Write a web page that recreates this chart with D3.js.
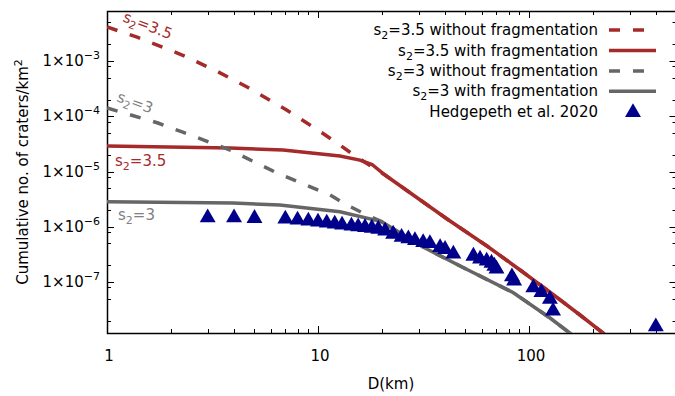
<!DOCTYPE html>
<html><head><meta charset="utf-8">
<script src="https://cdn.jsdelivr.net/npm/d3@7"></script>
<style>body{margin:0;background:#fff}svg{display:block}text{font-family:"DejaVu Sans",Verdana,sans-serif}</style>
</head><body><svg id="c" width="675" height="396"></svg>
<script>
// ---- data ----
const red35NoFragD = [1, 1.40, 2.27, 3.32, 4.66, 7.13, 10.2, 12.3, 14.98, 17.64, 20.78, 40.9, 63.2, 90.7, 130, 174.5, 224, 335.7];
const red35NoFragN = [4.11e-3, 2.66e-3, 1.28e-3, 6.50e-4, 3.31e-4, 1.285e-4, 5.34e-5, 3.28e-5, 1.92e-5, 1.285e-5, 8.65e-6, 1.384e-6, 4.50e-7, 1.655e-7, 5.97e-8, 2.54e-8, 1.2e-8, 3.6e-9];
const red35FragD = [1, 3.83, 6.83, 12.7, 15.8, 18.03, 20.78, 40.9, 63.2, 90.7, 130, 174.5, 224, 335.7];
const red35FragN = [2.89e-5, 2.66e-5, 2.45e-5, 1.91e-5, 1.61e-5, 1.339e-5, 8.65e-6, 1.384e-6, 4.50e-7, 1.655e-7, 5.97e-8, 2.54e-8, 1.2e-8, 3.6e-9];
const gray3NoFragD = [1, 1.745, 2.27, 3.83, 6.39, 11.4, 13.7, 16.7, 20.0, 31.45, 48.7, 84.0, 125.8, 156.4, 216.9];
const gray3NoFragN = [1.41e-4, 7.54e-5, 5.19e-5, 2.45e-5, 9.4e-6, 3.76e-6, 2.48e-6, 1.70e-6, 1.24e-6, 4.31e-7, 1.836e-7, 6.48e-8, 2.24e-8, 1.19e-8, 4.65e-9];
const gray3FragD = [1, 3.96, 6.6, 12.7, 20.0, 31.45, 48.7, 84.0, 125.8, 156.4, 216.9];
const gray3FragN = [2.84e-6, 2.69e-6, 2.48e-6, 1.87e-6, 1.24e-6, 4.31e-7, 1.836e-7, 6.48e-8, 2.24e-8, 1.19e-8, 4.65e-9];
const obsD = [3, 4, 5, 7, 8, 9, 10, 11, 12, 13, 14.4, 15.5, 16.7, 18, 19.3, 20.8, 22.7, 24.9, 26.8, 28.8, 31.5, 33.9, 37.9, 40, 43.8, 54.5, 58.6, 63, 66.4, 68.5, 70.1, 83, 85, 104.8, 114.5, 125.6, 130, 399];
const obsN = [1.467e-6, 1.467e-6, 1.425e-6, 1.384e-6, 1.327e-6, 1.273e-6, 1.222e-6, 1.172e-6, 1.125e-6, 1.077e-6, 1.033e-6, 1.004e-6, 9.8e-7, 9.5e-7, 9.1e-7, 8.4e-7, 7.4e-7, 6.5e-7, 6.1e-7, 5.65e-7, 5.2e-7, 4.99e-7, 4.22e-7, 3.92e-7, 3.22e-7, 2.96e-7, 2.62e-7, 2.41e-7, 2.21e-7, 1.95e-7, 1.73e-7, 1.25e-7, 1.05e-7, 7.9e-8, 6.5e-8, 4.9e-8, 3.0e-8, 1.56e-8];
const xTickVals = [1, 10, 100];
const xTickLabels = ["1", "10", "100"];
const yTickVals = [1e-7, 1e-6, 1e-5, 1e-4, 1e-3];
const yTickExps = ["−7", "−6", "−5", "−4", "−3"];
const yMinorMult = [2, 5, 8];
const legendLabels = ["3.5 without fragmentation", "3.5 with fragmentation", "3 without fragmentation", "3 with fragmentation", "Hedgepeth et al. 2020"];
const xDomain = [1, 500];
const yDomain = [1.2e-8, 8e-3];

// ---- layout ----
const svg = d3.select("#c");
const L = 107, R = 676.5, T = 11, B = 333;
const x = d3.scaleLog().domain(xDomain).range([L, R]);
const y = d3.scaleLog().domain(yDomain).range([B, T]);
const RED = "#a52a2a", GRAY = "#666666", BLUE = "#00008b", LGRAY = "#808080";
const DASH = "11,13";

svg.append("clipPath").attr("id", "clip").append("rect")
  .attr("x", L).attr("y", T).attr("width", R - L).attr("height", B - T);

// ticks
const xMinor = [];
for (let d = 1; d <= 100; d *= 10) for (let m = 2; m <= 9; m++) if (d * m <= 500) xMinor.push(d * m);
const yMinor = [];
for (let e = -9; e <= -2; e++) yMinorMult.forEach(m => { const v = m * Math.pow(10, e); if (v > yDomain[0] && v < yDomain[1]) yMinor.push(v); });

const ax = svg.append("g").attr("stroke", "#000").attr("stroke-width", 1);
xTickVals.forEach(v => {
  const px = Math.round(x(v)) + 0.5;
  ax.append("line").attr("x1", px).attr("x2", px).attr("y1", B).attr("y2", B - 7);
  ax.append("line").attr("x1", px).attr("x2", px).attr("y1", T).attr("y2", T + 7);
});
xMinor.forEach(v => {
  const px = Math.round(x(v)) + 0.5;
  ax.append("line").attr("x1", px).attr("x2", px).attr("y1", B).attr("y2", B - 4);
  ax.append("line").attr("x1", px).attr("x2", px).attr("y1", T).attr("y2", T + 4);
});
yTickVals.forEach(v => {
  const py = Math.round(y(v)) + 0.5;
  ax.append("line").attr("x1", L).attr("x2", L + 7).attr("y1", py).attr("y2", py);
  ax.append("line").attr("x1", R).attr("x2", R - 7).attr("y1", py).attr("y2", py);
});
yMinor.forEach(v => {
  const py = Math.round(y(v)) + 0.5;
  ax.append("line").attr("x1", L).attr("x2", L + 4).attr("y1", py).attr("y2", py);
  ax.append("line").attr("x1", R).attr("x2", R - 4).attr("y1", py).attr("y2", py);
});
svg.append("rect").attr("x", L + 0.5).attr("y", T + 0.5).attr("width", R - L).attr("height", B - T)
  .attr("fill", "none").attr("stroke", "#000").attr("stroke-width", 1.5);

// tick labels
xTickVals.forEach((v, i) => {
  svg.append("text").attr("x", x(v) + 2).attr("y", 361).attr("text-anchor", "middle")
    .attr("font-size", 15).text(xTickLabels[i]);
});
yTickVals.forEach((v, i) => {
  const t = svg.append("text").attr("x", 100).attr("y", y(v) + 5).attr("text-anchor", "end").attr("font-size", 15);
  t.append("tspan").text("1×10");
  t.append("tspan").attr("font-size", 11).attr("dy", -7).text(yTickExps[i]);
});

// axis titles
svg.append("text").attr("x", 391).attr("y", 389).attr("text-anchor", "middle").attr("font-size", 15).text("D(km)");
const yt = svg.append("text").attr("transform", "translate(28," + ((T + B) / 2) + ") rotate(-90)")
  .attr("text-anchor", "middle").attr("font-size", 15);
yt.append("tspan").text("Cumulative no. of craters/km");
yt.append("tspan").attr("font-size", 11).attr("dy", -6).text("2");

// curves
const line = d3.line().x(d => x(d[0])).y(d => y(d[1]));
const plot = svg.append("g").attr("clip-path", "url(#clip)");
const series = [
  {D: red35NoFragD, N: red35NoFragN, c: RED, dash: DASH},
  {D: red35FragD, N: red35FragN, c: RED, dash: null},
  {D: gray3NoFragD, N: gray3NoFragN, c: GRAY, dash: DASH},
  {D: gray3FragD, N: gray3FragN, c: GRAY, dash: null}
];
series.forEach(s => {
  plot.append("path").datum(s.D.map((d, i) => [d, s.N[i]])).attr("d", line)
    .attr("fill", "none").attr("stroke", s.c).attr("stroke-width", 3.5)
    .attr("stroke-dasharray", s.dash);
});
const tri = d3.symbol().type(d3.symbolTriangle).size(110);
plot.selectAll(".pt").data(obsD.map((d, i) => [d, obsN[i]])).enter().append("path")
  .attr("d", tri).attr("fill", BLUE)
  .attr("transform", d => "translate(" + x(d[0]) + "," + y(d[1]) + ")");

// curve annotations
function sLabel(g, val, color) {
  g.attr("fill", color).attr("font-size", 15);
  g.append("tspan").text("s");
  g.append("tspan").attr("font-size", 11).attr("dy", 4).text("2");
  g.append("tspan").attr("dy", -4).text("=" + val);
}
sLabel(svg.append("text").attr("transform", "translate(122,21) rotate(21)"), "3.5", RED);
sLabel(svg.append("text").attr("transform", "translate(116,101) rotate(20)"), "3", LGRAY);
sLabel(svg.append("text").attr("x", 115).attr("y", 166), "3.5", RED);
sLabel(svg.append("text").attr("x", 118).attr("y", 220), "3", LGRAY);

// legend
const legY = [30, 50.5, 71, 91.2, 111.5];
const legStyles = [
  {c: RED, dash: DASH, type: "line"},
  {c: RED, dash: null, type: "line"},
  {c: GRAY, dash: DASH, type: "line"},
  {c: GRAY, dash: null, type: "line"},
  {c: BLUE, type: "pt"}
];
legendLabels.forEach((lab, i) => {
  const t = svg.append("text").attr("x", 598).attr("y", legY[i] + 5).attr("text-anchor", "end").attr("font-size", 15);
  if (i < 4) {
    t.append("tspan").text("s");
    t.append("tspan").attr("font-size", 11).attr("dy", 4).text("2");
    t.append("tspan").attr("dy", -4).text("=" + lab);
  } else t.text(lab);
  const st = legStyles[i];
  if (st.type === "line") {
    svg.append("line").attr("x1", 609).attr("x2", 656).attr("y1", legY[i]).attr("y2", legY[i])
      .attr("stroke", st.c).attr("stroke-width", 3.5).attr("stroke-dasharray", st.dash);
  } else {
    svg.append("path").attr("d", tri).attr("fill", st.c).attr("transform", "translate(633," + (legY[i] + 1) + ")");
  }
});
</script></body></html>
